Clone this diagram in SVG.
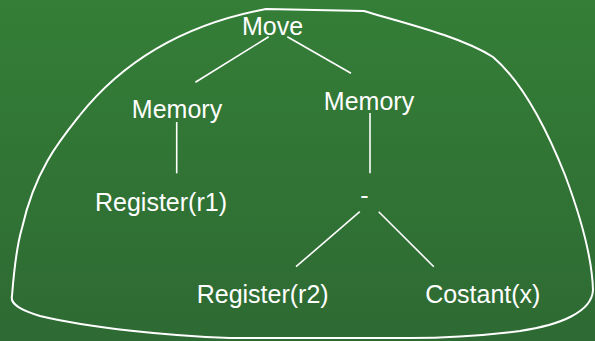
<svg xmlns="http://www.w3.org/2000/svg" width="595" height="341" viewBox="0 0 595 341">
  <defs>
    <linearGradient id="bg" x1="0" y1="0" x2="0" y2="1">
      <stop offset="0" stop-color="#347e37"/>
      <stop offset="1" stop-color="#2e6a33"/>
    </linearGradient>
    <style>
      .lbl { font-family: "Liberation Sans", Arial, sans-serif; font-size: 25px; fill: #ffffff; text-anchor: middle; }
      .edge { stroke: #ffffff; stroke-width: 1.6; fill: none; }
      .blob { stroke: #ffffff; stroke-width: 2; fill: none; }
    </style>
  </defs>
  <rect x="0" y="0" width="595" height="341" fill="url(#bg)"/>
  <path class="blob" d="M 266 9 L 364 11 C 400 22, 460 36, 493 57 C 520 80, 545 125, 565 175 C 580 215, 592 255, 593 290 C 592 312, 560 325, 520 331 C 480 336, 440 338, 410 338 L 230 338 C 170 336, 90 328, 40 316 C 20 310, 10 304, 12 296 C 14 270, 17 245, 22 228 C 35 170, 60 140, 80 115 C 120 65, 180 25, 266 9 Z"/>
  <g id="connectors">
    <line class="edge" x1="268.7" y1="36.7" x2="195.4" y2="82.3"/>
    <line class="edge" x1="287.3" y1="36.7" x2="351" y2="73.3"/>
    <line class="edge" x1="176.7" y1="122" x2="176.7" y2="173.3"/>
    <line class="edge" x1="370" y1="113" x2="370" y2="173.3"/>
    <line class="edge" x1="359.8" y1="211.7" x2="296" y2="266.7"/>
    <line class="edge" x1="378.7" y1="211.7" x2="433.8" y2="266.7"/>
  </g>
  <g id="move"><text class="lbl" x="272.5" y="35">Move</text></g>
  <g id="memory1"><text class="lbl" x="177" y="118">Memory</text></g>
  <g id="memory2"><text class="lbl" x="369" y="110">Memory</text></g>
  <g id="register1"><text class="lbl" x="161" y="211">Register(r1)</text></g>
  <g id="minus"><text class="lbl" x="364.5" y="204">-</text></g>
  <g id="register2"><text class="lbl" x="262.7" y="303">Register(r2)</text></g>
  <g id="constant"><text class="lbl" x="482.8" y="303">Costant(x)</text></g>
</svg>
